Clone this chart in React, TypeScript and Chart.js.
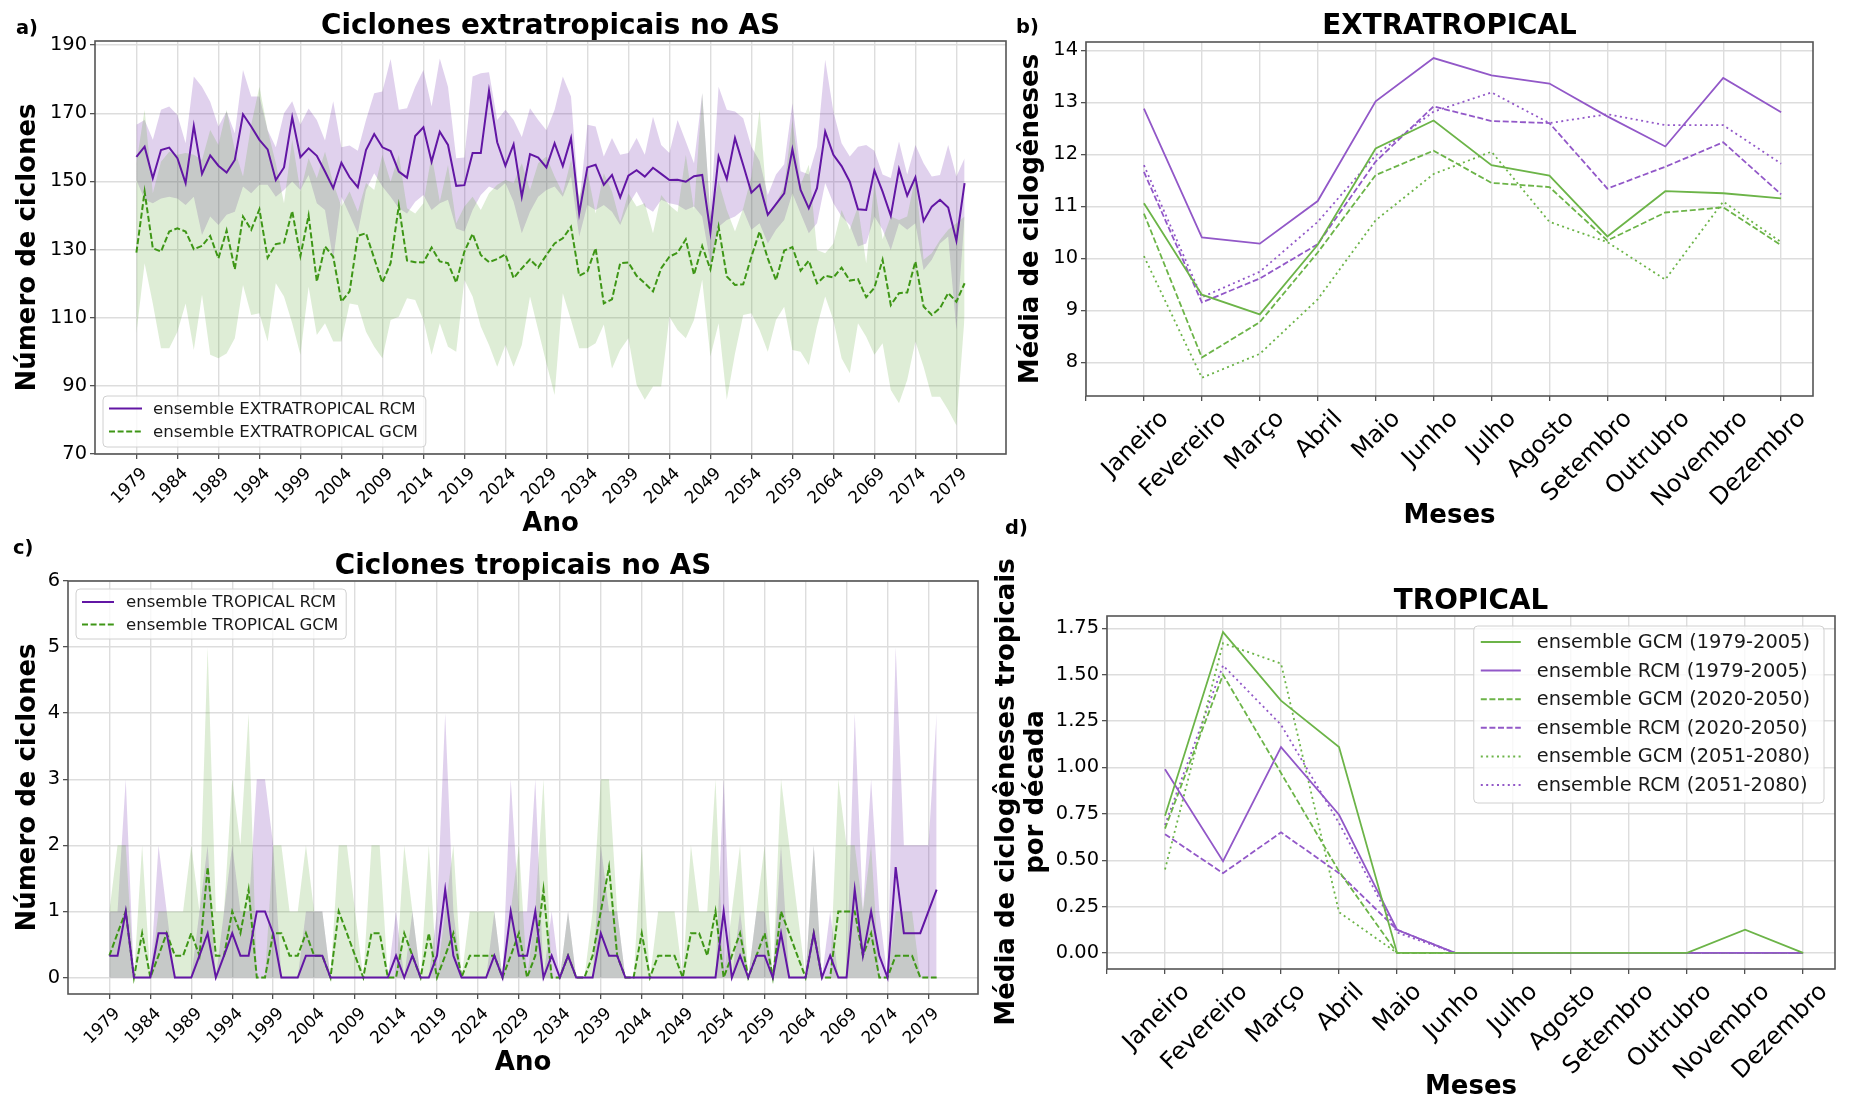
import React, { useEffect, useRef } from 'react';
import { Chart, registerables } from 'chart.js';

Chart.register(...registerables);
const FONT = "'DejaVu Sans', sans-serif";
Chart.defaults.font.family = FONT;

const GRID = '#dddddd';
const TICK = '#333333';
const RCM_LINE = 'rgb(98, 22, 164)';
const GCM_LINE = 'rgb(62, 150, 22)';
const RCM_FILL = 'rgba(100, 25, 165, 0.2)';
const GCM_FILL = 'rgba(90, 165, 50, 0.2)';
const PUR = 'rgb(146, 88, 200)';
const GRN = 'rgb(108, 180, 72)';

// ---------- Panels a) and c): yearly series ----------
const years = [
  1979, 1980, 1981, 1982, 1983, 1984, 1985, 1986, 1987, 1988,
  1989, 1990, 1991, 1992, 1993, 1994, 1995, 1996, 1997, 1998,
  1999, 2000, 2001, 2002, 2003, 2004, 2005, 2006, 2007, 2008,
  2009, 2010, 2011, 2012, 2013, 2014, 2015, 2016, 2017, 2018,
  2019, 2020, 2021, 2022, 2023, 2024, 2025, 2026, 2027, 2028,
  2029, 2030, 2031, 2032, 2033, 2034, 2035, 2036, 2037, 2038,
  2039, 2040, 2041, 2042, 2043, 2044, 2045, 2046, 2047, 2048,
  2049, 2050, 2051, 2052, 2053, 2054, 2055, 2056, 2057, 2058,
  2059, 2060, 2061, 2062, 2063, 2064, 2065, 2066, 2067, 2068,
  2069, 2070, 2071, 2072, 2073, 2074, 2075, 2076, 2077, 2078,
  2079, 2080,
];
const yearTicks = [1979, 1984, 1989, 1994, 1999, 2004, 2009, 2014, 2019, 2024, 2029, 2034, 2039, 2044, 2049, 2054, 2059, 2064, 2069, 2074, 2079];

const extraRcmMean = [
  157.2, 160.2, 150.9, 159.2, 159.9, 156.8, 149.5, 166.3, 152.2, 157.6,
  154.6, 152.6, 156.3, 169.7, 166.1, 162.2, 159.4, 150.4, 154.1, 168.8,
  157.1, 159.7, 157.5, 152.9, 148.0, 155.5, 151.2, 148.3, 159.2, 163.9,
  160.0, 158.9, 152.9, 151.1, 163.3, 165.9, 155.8, 164.6, 160.7, 148.7,
  148.9, 158.3, 158.3, 176.6, 161.5, 154.6, 160.9, 145.5, 158.0, 157.0,
  154.1, 161.2, 154.5, 162.7, 140.6, 154.1, 154.9, 149.0, 151.9, 145.3,
  151.7, 153.3, 151.4, 154.0, 152.2, 150.4, 150.5, 149.9, 151.5, 151.9,
  135.1, 157.3, 150.7, 162.7, 154.8, 146.7, 149.0, 140.2, 143.3, 146.5,
  159.4, 147.5, 142.1, 148.0, 164.6, 157.8, 154.5, 149.9, 141.8, 141.6,
  153.2, 147.0, 139.9, 153.6, 145.8, 151.2, 138.4, 142.6, 144.6, 142.3,
  132.6, 149.5,
];
const extraRcmMax = [
  166.6, 168.0, 162.2, 171.0, 172.0, 169.5, 161.2, 180.8, 177.8, 173.4,
  166.1, 170.5, 164.1, 182.7, 174.9, 174.9, 165.1, 160.0, 170.0, 173.5,
  166.7, 171.4, 168.0, 162.0, 173.5, 160.0, 160.5, 159.0, 168.0, 175.9,
  176.4, 185.9, 171.0, 171.5, 177.8, 182.7, 172.0, 186.1, 177.8, 156.8,
  157.0, 180.8, 181.7, 182.0, 168.0, 171.0, 168.0, 163.0, 171.5, 168.0,
  165.0, 171.0, 180.8, 174.9, 143.0, 166.6, 166.1, 157.3, 162.7, 157.8,
  158.3, 162.7, 157.8, 169.0, 160.7, 158.3, 168.0, 161.7, 155.3, 175.9,
  140.0, 177.8, 171.0, 170.5, 168.5, 160.2, 156.0, 146.0, 152.0, 155.0,
  172.9, 153.0, 152.0, 160.2, 185.7, 170.5, 161.2, 157.3, 160.2, 160.7,
  159.0, 152.0, 151.0, 161.7, 152.0, 160.7, 155.3, 151.4, 151.9, 160.7,
  151.4, 156.8,
];
const extraRcmMin = [
  150.4, 144.6, 143.6, 145.0, 145.5, 145.0, 143.1, 145.5, 134.3, 139.7,
  137.2, 140.2, 141.1, 148.5, 146.5, 149.0, 149.0, 145.5, 147.5, 150.0,
  147.5, 151.9, 143.6, 141.6, 127.0, 145.5, 140.2, 134.8, 147.5, 152.4,
  148.5, 145.5, 142.1, 140.6, 144.0, 146.0, 141.6, 143.6, 144.6, 136.2,
  135.3, 141.6, 146.0, 148.5, 147.5, 149.5, 144.0, 134.8, 141.1, 145.5,
  147.5, 148.5, 145.5, 151.4, 133.8, 143.1, 141.6, 143.1, 141.1, 137.2,
  143.1, 147.0, 142.6, 141.1, 144.6, 143.6, 143.1, 141.6, 142.6, 139.7,
  126.0, 136.7, 138.7, 139.7, 141.6, 135.8, 137.7, 131.8, 135.8, 138.7,
  146.5, 140.6, 134.8, 137.7, 149.5, 143.6, 139.7, 137.2, 130.9, 131.8,
  139.7, 135.8, 129.9, 137.7, 135.8, 137.7, 124.0, 127.0, 131.8, 133.8,
  106.4, 139.7,
];
const extraGcmMean = [
  129.1, 147.0, 130.4, 129.4, 135.3, 136.2, 135.3, 130.1, 131.1, 134.0,
  127.4, 135.6, 124.2, 139.7, 135.8, 141.8, 127.6, 131.6, 132.0, 141.3,
  128.1, 140.0, 120.6, 130.9, 127.9, 114.7, 117.7, 134.0, 134.8, 127.4,
  120.3, 126.0, 142.9, 126.8, 126.3, 126.2, 130.6, 126.5, 126.0, 120.3,
  129.4, 134.6, 128.4, 126.3, 127.2, 128.6, 121.6, 124.5, 127.1, 124.7,
  128.4, 131.8, 133.3, 136.7, 122.3, 123.6, 130.4, 114.2, 115.4, 126.0,
  126.2, 122.3, 120.1, 117.7, 124.5, 127.9, 129.1, 133.0, 122.6, 131.0,
  124.2, 136.7, 122.1, 119.6, 119.8, 127.9, 135.3, 127.4, 121.0, 129.7,
  130.7, 123.8, 126.7, 120.1, 122.3, 121.8, 124.7, 120.9, 121.3, 116.0,
  118.8, 127.0, 113.7, 117.2, 117.4, 126.5, 113.3, 110.8, 112.8, 117.2,
  114.7, 120.1,
];
const extraGcmMax = [
  155.3, 171.0, 146.5, 155.8, 158.7, 157.8, 158.3, 157.8, 156.3, 165.1,
  160.7, 171.0, 159.2, 151.4, 166.6, 177.8, 165.1, 155.3, 143.6, 162.2,
  147.0, 156.8, 150.9, 158.7, 149.5, 142.6, 147.0, 141.1, 149.5, 147.5,
  157.8, 149.9, 157.8, 142.1, 140.6, 143.6, 157.8, 144.0, 154.8, 137.7,
  142.6, 145.5, 141.6, 146.5, 149.0, 150.4, 149.5, 155.3, 147.5, 155.3,
  157.3, 151.4, 146.5, 156.3, 145.5, 152.9, 140.6, 152.4, 147.0, 138.0,
  146.5, 142.6, 143.6, 134.8, 146.0, 143.0, 141.0, 157.8, 141.6, 176.0,
  139.7, 150.0, 141.6, 135.3, 142.1, 151.4, 171.0, 140.6, 143.6, 148.5,
  168.0, 149.0, 154.9, 129.9, 128.9, 131.8, 141.6, 135.8, 142.6, 126.0,
  149.5, 133.0, 139.7, 138.7, 139.7, 151.4, 127.0, 128.9, 132.8, 135.8,
  137.7, 139.7,
];
const extraGcmMin = [
  105.4, 126.0, 114.2, 101.0, 101.0, 105.9, 114.2, 100.5, 116.7, 99.1,
  98.1, 99.5, 104.0, 119.6, 110.8, 111.3, 103.0, 120.1, 116.2, 108.4,
  99.1, 119.1, 104.9, 108.4, 103.0, 103.0, 114.2, 113.7, 105.9, 101.5,
  98.1, 109.3, 110.3, 115.7, 115.2, 109.3, 99.1, 108.4, 101.5, 100.0,
  121.1, 116.2, 107.4, 102.0, 95.6, 102.0, 95.6, 102.0, 116.2, 106.4,
  96.6, 87.3, 117.2, 109.3, 101.0, 101.0, 102.5, 108.0, 95.1, 100.5,
  104.0, 90.3, 85.9, 89.8, 89.8, 110.3, 106.4, 104.0, 109.3, 121.1,
  98.6, 108.4, 85.9, 99.5, 110.8, 111.3, 106.4, 100.0, 109.3, 113.2,
  100.5, 100.0, 96.1, 107.4, 116.2, 109.3, 98.1, 93.7, 108.4, 104.4,
  99.1, 102.5, 88.8, 84.9, 91.7, 103.0, 95.6, 86.8, 86.8, 82.9,
  78.4, 110.3,
];

const tropRcmMean = [
  0.33, 0.33, 1, 0, 0, 0, 0.67, 0.67, 0, 0,
  0, 0.33, 0.67, 0, 0.33, 0.67, 0.33, 0.33, 1, 1,
  0.67, 0, 0, 0, 0.33, 0.33, 0.33, 0, 0, 0,
  0, 0, 0, 0, 0, 0.33, 0, 0.33, 0, 0,
  0.33, 1.33, 0.33, 0, 0, 0, 0, 0.33, 0, 1,
  0.33, 0.33, 1, 0, 0.33, 0, 0.33, 0, 0, 0,
  0.67, 0.33, 0.33, 0, 0, 0, 0, 0, 0, 0,
  0, 0, 0, 0, 0, 1, 0, 0.33, 0, 0.33,
  0.33, 0, 0.67, 0, 0, 0, 0.67, 0, 0.33, 0,
  0, 1.33, 0.33, 1, 0.33, 0, 1.67, 0.67, 0.67, 0.67,
  1, 1.33,
];
const tropRcmMax = [
  1, 1, 3, 0, 0, 0, 2, 1, 0, 0,
  0, 1, 2, 0, 1, 2, 1, 1, 3, 3,
  2, 0, 0, 0, 1, 1, 1, 0, 0, 0,
  0, 0, 0, 0, 0, 1, 0, 1, 0, 0,
  1, 4, 1, 0, 0, 0, 0, 1, 0, 3,
  1, 1, 3, 0, 1, 0, 1, 0, 0, 0,
  2, 1, 1, 0, 0, 0, 0, 0, 0, 0,
  0, 0, 0, 0, 0, 3, 0, 1, 0, 1,
  1, 0, 2, 0, 0, 0, 2, 0, 1, 0,
  0, 4, 1, 3, 1, 0, 5, 2, 2, 2,
  2, 4,
];
const tropGcmMean = [
  0.33, 0.67, 1, 0, 0.67, 0, 0.33, 0.67, 0.33, 0.33,
  0.67, 0.33, 1.67, 0.33, 0.33, 1, 0.67, 1.33, 0, 0,
  0.67, 0.67, 0.33, 0.33, 0.67, 0.33, 0.33, 0, 1, 0.67,
  0.33, 0, 0.67, 0.67, 0, 0, 0.67, 0.33, 0, 0.67,
  0, 0.33, 0.67, 0, 0.33, 0.33, 0.33, 0.33, 0, 0.33,
  0.67, 0, 0.33, 1.33, 0, 0, 0.33, 0, 0, 0.33,
  1, 1.67, 0.33, 0, 0, 0.67, 0, 0.33, 0.33, 0.33,
  0, 0.67, 0.67, 0.33, 1, 0, 0.33, 0.67, 0, 0.33,
  0.67, 0, 1, 0.67, 0.33, 0, 0.67, 0, 0, 1,
  1, 1, 0.33, 0.67, 0, 0, 0.33, 0.33, 0.33, 0,
  0, 0,
];
const tropGcmMax = [
  1, 2, 2, 0, 2, 0, 1, 1, 1, 1,
  2, 1, 5, 1, 1, 3, 2, 4, 0, 0,
  2, 2, 1, 1, 2, 1, 1, 0, 2, 2,
  1, 0, 2, 2, 0, 0, 2, 1, 0, 2,
  0, 1, 2, 0, 1, 1, 1, 1, 0, 1,
  2, 0, 1, 3, 0, 0, 1, 0, 0, 1,
  3, 3, 1, 0, 0, 2, 0, 1, 1, 1,
  0, 2, 1, 1, 3, 0, 1, 2, 0, 1,
  2, 0, 3, 2, 1, 0, 2, 0, 0, 3,
  2, 2, 1, 2, 0, 0, 1, 1, 1, 0,
  0, 0,
];

// ---------- Panels b) and d): monthly climatologies ----------
const months = ['Janeiro', 'Fevereiro', 'Março', 'Abril', 'Maio', 'Junho', 'Julho', 'Agosto', 'Setembro', 'Outrubro', 'Novembro', 'Dezembro'];
const monthX = [1, 2, 3, 4, 5, 6, 7, 8, 9, 10, 11, 12];
const monthTicks = [0, 1, 2, 3, 4, 5, 6, 7, 8, 9, 10, 11, 12];

const etGcm7905 = [11.06, 9.30, 8.92, 10.26, 12.11, 12.65, 11.79, 11.59, 10.42, 11.29, 11.25, 11.15];
const etRcm7905 = [12.88, 10.40, 10.28, 11.10, 13.02, 13.85, 13.52, 13.36, 12.73, 12.15, 13.47, 12.81];
const etGcm2050 = [10.86, 8.09, 8.77, 10.11, 11.60, 12.07, 11.45, 11.37, 10.34, 10.88, 10.98, 10.25];
const etRcm2050 = [11.66, 9.15, 9.61, 10.27, 11.86, 12.92, 12.64, 12.60, 11.34, 11.76, 12.23, 11.23];
const etGcm5180 = [10.04, 7.70, 8.16, 9.21, 10.73, 11.62, 12.05, 10.70, 10.31, 9.59, 11.09, 10.31];
const etRcm5180 = [11.79, 9.25, 9.74, 10.70, 11.98, 12.82, 13.19, 12.60, 12.77, 12.56, 12.56, 11.82];

const trGcm7905 = [0.74, 1.73, 1.36, 1.11, 0, 0, 0, 0, 0, 0, 0.125, 0];
const trRcm7905 = [0.99, 0.495, 1.11, 0.745, 0.125, 0, 0, 0, 0, 0, 0, 0];
const trGcm2050 = [0.67, 1.50, 0.97, 0.44, 0, 0, 0, 0, 0, 0, 0, 0];
const trRcm2050 = [0.64, 0.43, 0.65, 0.43, 0.125, 0, 0, 0, 0, 0, 0, 0];
const trGcm5180 = [0.45, 1.67, 1.56, 0.22, 0, 0, 0, 0, 0, 0, 0, 0];
const trRcm5180 = [0.69, 1.55, 1.23, 0.70, 0.11, 0, 0, 0, 0, 0, 0, 0];

const yTicksA = [70, 90, 110, 130, 150, 170, 190];
const yTicksB = [8, 9, 10, 11, 12, 13, 14];
const yTicksC = [0, 1, 2, 3, 4, 5, 6];
const yTicksD = [0, 0.25, 0.5, 0.75, 1.0, 1.25, 1.5, 1.75];

const DASH = [6, 2.6];
const DOT = [2, 3.4];

// ---------- helpers ----------
function pts(xs: number[], ys: number[]) {
  return xs.map((x, i) => ({ x, y: ys[i] }));
}
function lineDs(label: string, xs: number[], ys: number[], color: string, dash: number[], width: number) {
  return { label, data: pts(xs, ys), borderColor: color, backgroundColor: color, borderWidth: width, borderDash: dash, pointRadius: 0, tension: 0, fill: false };
}
function bandDs(xs: number[], ys: number[], color: string, fill: any) {
  return { label: '', data: pts(xs, ys), borderColor: 'rgba(0,0,0,0)', borderWidth: 0, backgroundColor: color, pointRadius: 0, tension: 0, fill };
}

const gridOpts = { color: GRID, lineWidth: 1.4, tickColor: TICK, tickLength: 5, tickWidth: 1.1, drawTicks: true };

function yScale(o: any) {
  return {
    type: 'linear', position: 'left', min: o.min, max: o.max, bounds: 'data',
    afterBuildTicks: (s: any) => { s.ticks = o.ticks.map((v: number) => ({ value: v })); },
    afterFit: (s: any) => { s.width = o.width; },
    ticks: { font: { size: 19.4, family: FONT }, color: '#000', padding: 3, callback: o.fmt || ((v: number) => String(v)) },
    grid: gridOpts,
    border: { display: false },
    title: o.title
      ? { display: true, text: o.title, color: '#000', font: { size: 26, weight: 'bold', family: FONT, lineHeight: 1.2 }, padding: { top: o.titlePad, bottom: 0 } }
      : { display: false },
  };
}
function xScale(o: any) {
  return {
    type: 'linear', position: 'bottom', min: o.min, max: o.max, bounds: 'data',
    afterBuildTicks: (s: any) => { s.ticks = o.ticks.map((v: number) => ({ value: v })); },
    afterFit: (s: any) => { s.height = o.height; },
    ticks: {
      autoSkip: false, minRotation: 45, maxRotation: 45,
      font: { size: o.size, family: FONT }, color: '#000', padding: o.pad, labelOffset: o.offset,
      callback: (_v: number, i: number) => o.labels[i],
    },
    grid: gridOpts,
    border: { display: false },
    title: { display: true, text: o.title, color: '#000', font: { size: 26, weight: 'bold', family: FONT, lineHeight: 1.2 }, padding: { top: 0, bottom: o.titlePad } },
  };
}

const framePlugin = {
  id: 'frame',
  afterDraw(chart: any) {
    const { ctx, chartArea: a } = chart;
    ctx.save();
    ctx.strokeStyle = '#555555';
    ctx.lineWidth = 1.6;
    ctx.strokeRect(a.left, a.top, a.right - a.left, a.bottom - a.top);
    ctx.restore();
  },
};

function makeLegend(spec: any) {
  return {
    id: 'boxLegend',
    afterDraw(chart: any) {
      const { ctx, chartArea: a } = chart;
      ctx.save();
      ctx.font = `${spec.size}px ${FONT}`;
      const tw = Math.max(...spec.items.map((it: any) => ctx.measureText(it.label).width));
      const w = spec.textX + tw + spec.padRight;
      const h = spec.height;
      const x = spec.corner.indexOf('l') >= 0 ? a.left + spec.dx : a.right - spec.dx - w;
      const y = spec.corner.indexOf('t') >= 0 ? a.top + spec.dy : a.bottom - spec.dy - h;
      const r = 4;
      ctx.beginPath();
      ctx.moveTo(x + r, y);
      ctx.lineTo(x + w - r, y);
      ctx.quadraticCurveTo(x + w, y, x + w, y + r);
      ctx.lineTo(x + w, y + h - r);
      ctx.quadraticCurveTo(x + w, y + h, x + w - r, y + h);
      ctx.lineTo(x + r, y + h);
      ctx.quadraticCurveTo(x, y + h, x, y + h - r);
      ctx.lineTo(x, y + r);
      ctx.quadraticCurveTo(x, y, x + r, y);
      ctx.closePath();
      ctx.fillStyle = 'rgba(255,255,255,0.8)';
      ctx.fill();
      ctx.strokeStyle = '#d0d0d0';
      ctx.lineWidth = 1;
      ctx.stroke();
      spec.items.forEach((it: any, i: number) => {
        const cy = y + spec.firstRow + i * spec.rowH;
        ctx.beginPath();
        ctx.setLineDash(it.dash);
        ctx.strokeStyle = it.color;
        ctx.lineWidth = it.width;
        ctx.moveTo(x + spec.lineX0, cy);
        ctx.lineTo(x + spec.lineX0 + spec.lineLen, cy);
        ctx.stroke();
        ctx.setLineDash([]);
        ctx.fillStyle = '#1a1a1a';
        ctx.textAlign = 'left';
        ctx.textBaseline = 'middle';
        ctx.fillText(it.label, x + spec.textX, cy + 1);
      });
      ctx.restore();
    },
  };
}

function baseOptions(padding: any, scales: any) {
  return {
    responsive: false,
    animation: false,
    devicePixelRatio: 1,
    events: [],
    layout: { padding },
    plugins: {
      legend: { display: false },
      tooltip: { enabled: false },
      title: { display: false },
      filler: { propagate: false, drawTime: 'beforeDatasetsDraw' },
    },
    scales,
  };
}

// ---------- chart configs ----------
const X_MIN = 1973.95;
const X_MAX = 2085.05;
const yearLabels = yearTicks.map((y) => String(y));
const monthLabels = [''].concat(months);

function configA() {
  return {
    type: 'line',
    data: {
      datasets: [
        lineDs('ensemble EXTRATROPICAL RCM', years, extraRcmMean, RCM_LINE, [], 2),
        lineDs('ensemble EXTRATROPICAL GCM', years, extraGcmMean, GCM_LINE, DASH, 2),
        bandDs(years, extraGcmMax, GCM_FILL, '+1'),
        bandDs(years, extraGcmMin, GCM_FILL, false),
        bandDs(years, extraRcmMax, RCM_FILL, '+1'),
        bandDs(years, extraRcmMin, RCM_FILL, false),
      ],
    },
    options: baseOptions({ left: 0, top: 41, right: 4, bottom: 0 }, {
      x: xScale({ min: X_MIN, max: X_MAX, ticks: yearTicks, labels: yearLabels, height: 91, size: 16.8, pad: 5, offset: 8.1, title: 'Ano', titlePad: 5.5 }),
      y: yScale({ min: 70, max: 191.2, ticks: yTicksA, width: 95, title: 'Número de ciclones', titlePad: 13 }),
    }),
    plugins: [framePlugin, makeLegend({
      corner: 'bl', dx: 8, dy: 7, height: 51, firstRow: 12.5, rowH: 23, lineX0: 6, lineLen: 33, textX: 50, padRight: 8, size: 16.6,
      items: [
        { label: 'ensemble EXTRATROPICAL RCM', color: RCM_LINE, dash: [], width: 2 },
        { label: 'ensemble EXTRATROPICAL GCM', color: GCM_LINE, dash: DASH, width: 2 },
      ],
    })],
  };
}

function configC() {
  return {
    type: 'line',
    data: {
      datasets: [
        lineDs('ensemble TROPICAL RCM', years, tropRcmMean, RCM_LINE, [], 2),
        lineDs('ensemble TROPICAL GCM', years, tropGcmMean, GCM_LINE, DASH, 2),
        bandDs(years, tropGcmMax, GCM_FILL, 'origin'),
        bandDs(years, tropRcmMax, RCM_FILL, 'origin'),
      ],
    },
    options: baseOptions({ left: 0, top: 36, right: 32, bottom: 0 }, {
      x: xScale({ min: X_MIN, max: X_MAX, ticks: yearTicks, labels: yearLabels, height: 109, size: 16.8, pad: 5, offset: 8.1, title: 'Ano', titlePad: 24.5 }),
      y: yScale({ min: -0.25, max: 6, ticks: yTicksC, width: 68, title: 'Número de ciclones', titlePad: 12.5 }),
    }),
    plugins: [framePlugin, makeLegend({
      corner: 'tl', dx: 8, dy: 8, height: 50, firstRow: 13, rowH: 22.5, lineX0: 6, lineLen: 32, textX: 50, padRight: 8, size: 16.6,
      items: [
        { label: 'ensemble TROPICAL RCM', color: RCM_LINE, dash: [], width: 2 },
        { label: 'ensemble TROPICAL GCM', color: GCM_LINE, dash: DASH, width: 2 },
      ],
    })],
  };
}

function configB() {
  return {
    type: 'line',
    data: {
      datasets: [
        lineDs('ensemble GCM (1979-2005)', monthX, etGcm7905, GRN, [], 1.8),
        lineDs('ensemble RCM (1979-2005)', monthX, etRcm7905, PUR, [], 1.8),
        lineDs('ensemble GCM (2020-2050)', monthX, etGcm2050, GRN, DASH, 1.8),
        lineDs('ensemble RCM (2020-2050)', monthX, etRcm2050, PUR, DASH, 1.8),
        lineDs('ensemble GCM (2051-2080)', monthX, etGcm5180, GRN, DOT, 1.8),
        lineDs('ensemble RCM (2051-2080)', monthX, etRcm5180, PUR, DOT, 1.8),
      ],
    },
    options: baseOptions({ left: 0, top: 42, right: 42, bottom: 0 }, {
      x: xScale({ min: 0, max: 12.55, ticks: monthTicks, labels: monthLabels, height: 149, size: 24, pad: 4, offset: 21, title: 'Meses', titlePad: 13 }),
      y: yScale({ min: 7.35, max: 14.16, ticks: yTicksB, width: 86, title: 'Média de ciclogêneses', titlePad: 15.4 }),
    }),
    plugins: [framePlugin],
  };
}

const legendD = [
  { label: 'ensemble GCM (1979-2005)', color: GRN, dash: [], width: 2 },
  { label: 'ensemble RCM (1979-2005)', color: PUR, dash: [], width: 2 },
  { label: 'ensemble GCM (2020-2050)', color: GRN, dash: DASH, width: 2 },
  { label: 'ensemble RCM (2020-2050)', color: PUR, dash: DASH, width: 2 },
  { label: 'ensemble GCM (2051-2080)', color: GRN, dash: DOT, width: 2 },
  { label: 'ensemble RCM (2051-2080)', color: PUR, dash: DOT, width: 2 },
];

function configD() {
  return {
    type: 'line',
    data: {
      datasets: [
        lineDs(legendD[0].label, monthX, trGcm7905, GRN, [], 1.8),
        lineDs(legendD[1].label, monthX, trRcm7905, PUR, [], 1.8),
        lineDs(legendD[2].label, monthX, trGcm2050, GRN, DASH, 1.8),
        lineDs(legendD[3].label, monthX, trRcm2050, PUR, DASH, 1.8),
        lineDs(legendD[4].label, monthX, trGcm5180, GRN, DOT, 1.8),
        lineDs(legendD[5].label, monthX, trRcm5180, PUR, DOT, 1.8),
      ],
    },
    options: baseOptions({ left: 0, top: 71, right: 20, bottom: 0 }, {
      x: xScale({ min: 0, max: 12.55, ticks: monthTicks, labels: monthLabels, height: 134, size: 24, pad: 4, offset: 21, title: 'Meses', titlePad: 0.5 }),
      y: yScale({ min: -0.0865, max: 1.8165, ticks: yTicksD, width: 107, title: null, fmt: (v: number) => v.toFixed(2) }),
    }),
    plugins: [framePlugin, makeLegend({
      corner: 'tr', dx: 11, dy: 10, height: 177, firstRow: 16, rowH: 28.6, lineX0: 7, lineLen: 40, textX: 63, padRight: 14, size: 19.4,
      items: legendD,
    })],
  };
}

// ---------- components ----------
function ChartCanvas(props: { left: number; top: number; width: number; height: number; build: () => any }) {
  const ref = useRef<HTMLCanvasElement | null>(null);
  useEffect(() => {
    const chart = new Chart(ref.current as HTMLCanvasElement, props.build());
    return () => chart.destroy();
  }, []);
  return (
    <canvas
      ref={ref}
      width={props.width}
      height={props.height}
      style={{ position: 'absolute', left: props.left, top: props.top, width: props.width, height: props.height }}
    />
  );
}

function Title(props: { text: string; cx: number; top: number }) {
  return (
    <div style={{ position: 'absolute', left: props.cx - 400, top: props.top, width: 800, textAlign: 'center', fontFamily: FONT, fontWeight: 'bold', fontSize: 27.8, lineHeight: '34px', color: '#000', whiteSpace: 'nowrap' }}>
      {props.text}
    </div>
  );
}

function Letter(props: { text: string; left: number; top: number }) {
  return (
    <div style={{ position: 'absolute', left: props.left, top: props.top, fontFamily: FONT, fontWeight: 'bold', fontSize: 19.4, lineHeight: '23px', color: '#000', whiteSpace: 'nowrap' }}>
      {props.text}
    </div>
  );
}

export default function App() {
  return (
    <div style={{ position: 'absolute', left: 0, top: 0, width: 1855, height: 1103, background: '#ffffff', overflow: 'hidden' }}>
      <ChartCanvas left={0} top={0} width={1010} height={545} build={configA} />
      <ChartCanvas left={1000} top={0} width={855} height={545} build={configB} />
      <ChartCanvas left={0} top={545} width={1010} height={558} build={configC} />
      <ChartCanvas left={1000} top={545} width={855} height={558} build={configD} />

      <Title text="Ciclones extratropicais no AS" cx={550.5} top={8.4} />
      <Title text="EXTRATROPICAL" cx={1449.5} top={8.4} />
      <Title text="Ciclones tropicais no AS" cx={523} top={547.7} />
      <Title text="TROPICAL" cx={1471} top={582.7} />

      <Letter text="a)" left={16} top={15.8} />
      <Letter text="b)" left={1016} top={15.3} />
      <Letter text="c)" left={13} top={535.8} />
      <Letter text="d)" left={1005} top={516.3} />

      <div
        style={{
          position: 'absolute', left: 1019.5 - 280, top: 792 - 29, width: 560, height: 58,
          transform: 'rotate(-90deg)', transformOrigin: '50% 50%', textAlign: 'center',
          fontFamily: FONT, fontWeight: 'bold', fontSize: 26, lineHeight: '29px', color: '#000', whiteSpace: 'nowrap',
        }}
      >
        Média de ciclogêneses tropicais
        <br />
        por década
      </div>
    </div>
  );
}
